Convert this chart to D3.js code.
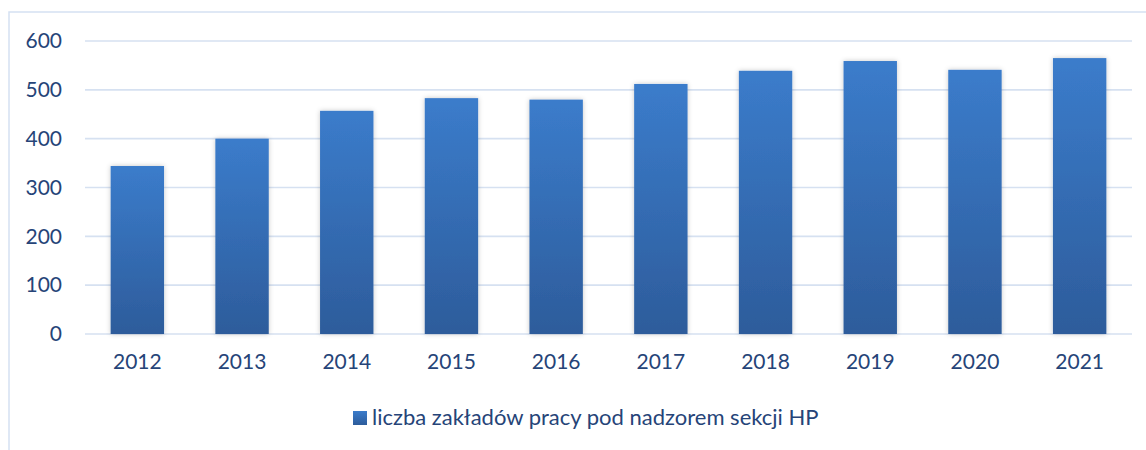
<!DOCTYPE html>
<html>
<head>
<meta charset="utf-8">
<script src="https://cdn.jsdelivr.net/npm/d3@7"></script>
<style>
  body { margin: 0; background: #fff; }
  text { font-family: Lato, "Open Sans", sans-serif; fill: #264478; }
</style>
</head>
<body>
<div id="chart"></div>
<script>
const years = ["2012", "2013", "2014", "2015", "2016", "2017", "2018", "2019", "2020", "2021"];
const counts = [344, 400, 457, 483, 480, 512, 539, 559, 541, 565];
const yTicks = [0, 100, 200, 300, 400, 500, 600];
const seriesName = "liczba zakładów pracy pod nadzorem sekcji HP";

const W = 1146, H = 450;
const margin = {top: 41, right: 14, bottom: 116, left: 85},
    width = W - margin.left - margin.right,
    height = H - margin.top - margin.bottom;

const svg = d3.select("#chart")
    .append("svg")
    .attr("width", W)
    .attr("height", H);

// outer chart frame (cut off on the right / bottom like the source)
svg.append("rect")
    .attr("x", 9).attr("y", 12)
    .attr("width", W + 20).attr("height", H + 20)
    .attr("fill", "none")
    .attr("stroke", "#d5e1f2")
    .attr("stroke-width", 1.5);

const defs = svg.append("defs");
const grad = defs.append("linearGradient")
    .attr("id", "barGrad")
    .attr("x1", 0).attr("y1", 0).attr("x2", 0).attr("y2", 1);
grad.append("stop").attr("offset", "0%").attr("stop-color", "#3b7ccb");
grad.append("stop").attr("offset", "100%").attr("stop-color", "#2d5c9b");

const shadow = defs.append("filter")
    .attr("id", "shadow")
    .attr("x", "-20%").attr("y", "-10%").attr("width", "140%").attr("height", "120%");
shadow.append("feDropShadow")
    .attr("dx", 0).attr("dy", 0).attr("stdDeviation", 2.5)
    .attr("flood-color", "#000").attr("flood-opacity", 0.22);

const g = svg.append("g")
    .attr("transform", `translate(${margin.left}, ${margin.top})`);

const x = d3.scaleBand()
    .domain(years)
    .range([0, width])
    .paddingInner(0.49)
    .paddingOuter(0.245);

const y = d3.scaleLinear()
    .domain([0, 600])
    .range([height, 0]);

// gridlines
g.append("g")
    .selectAll("line")
    .data(yTicks)
    .enter().append("line")
    .attr("x1", 0).attr("x2", width)
    .attr("y1", d => y(d)).attr("y2", d => y(d))
    .attr("stroke", "#d6e1f1")
    .attr("stroke-width", 1.6);

// y axis labels
const yAxis = g.append("g")
    .call(d3.axisLeft(y).tickValues(yTicks).tickSize(0).tickPadding(23));
yAxis.select(".domain").remove();
yAxis.selectAll("text")
    .style("font-size", "21px")
    .attr("fill", "#264478");

// bars
g.selectAll(".bar")
    .data(counts)
    .enter().append("rect")
    .attr("class", "bar")
    .attr("x", (d, i) => x(years[i]))
    .attr("y", d => y(d))
    .attr("width", x.bandwidth())
    .attr("height", d => height - y(d))
    .attr("fill", "url(#barGrad)")
    .attr("filter", "url(#shadow)");

// x axis labels
const xAxis = g.append("g")
    .attr("transform", `translate(0, ${height})`)
    .call(d3.axisBottom(x).tickSize(0).tickPadding(20));
xAxis.select(".domain").remove();
xAxis.selectAll("text")
    .style("font-size", "21px")
    .attr("fill", "#264478");

// legend
const legend = svg.append("g").attr("transform", "translate(353, 411)");
legend.append("rect")
    .attr("width", 14).attr("height", 14)
    .attr("fill", "url(#barGrad)");
legend.append("text")
    .attr("x", 19).attr("y", 14)
    .style("font-size", "22px")
    .text(seriesName);
</script>
</body>
</html>
